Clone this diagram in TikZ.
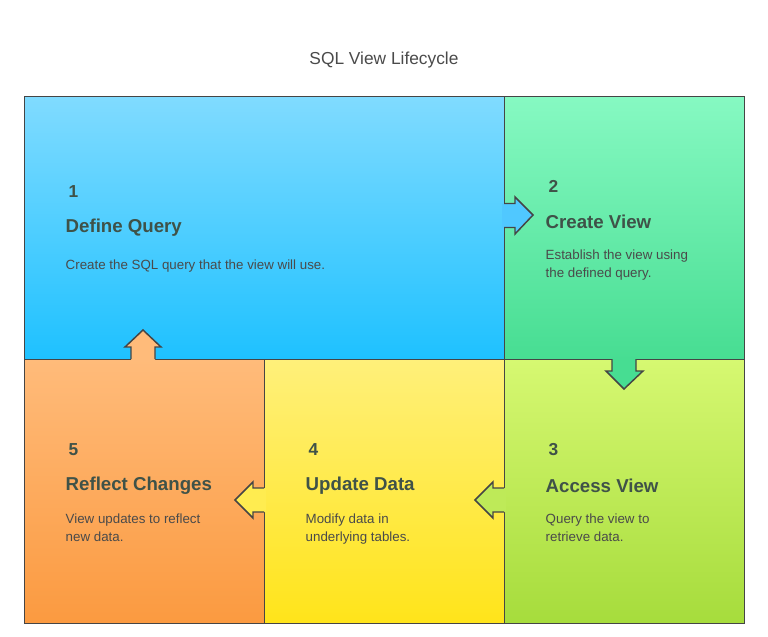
\documentclass[tikz,border=0pt]{standalone}
\usepackage{fontspec}
\setmainfont{Liberation Sans}
\usetikzlibrary{positioning}
\definecolor{edge}{HTML}{454545}
\definecolor{ink}{HTML}{4A4A4A}
\definecolor{headink}{HTML}{3F5248}
\definecolor{bluetop}{HTML}{80DBFF}
\definecolor{bluebot}{HTML}{1EC1FF}
\definecolor{bluemid}{HTML}{50C8FF}
\definecolor{greentop}{HTML}{86F9C2}
\definecolor{greenbot}{HTML}{47DD92}
\definecolor{limetop}{HTML}{D6F871}
\definecolor{limebot}{HTML}{A6DC3C}
\definecolor{limemid}{HTML}{BEEA58}
\definecolor{yellowtop}{HTML}{FFF07A}
\definecolor{yellowbot}{HTML}{FFE41A}
\definecolor{yellowmid}{HTML}{FFEC50}
\definecolor{orangetop}{HTML}{FFBB7A}
\definecolor{orangebot}{HTML}{FB9A40}

\begin{document}
\begin{tikzpicture}[
x=0.75pt, y=-0.75pt,
panel/.style={draw=edge, line width=1.1pt, rectangle, inner sep=0pt, anchor=north west},
num/.style={anchor=west, font=\bfseries\fontsize{13}{15}\selectfont, text=headink},
head/.style={anchor=west, font=\bfseries\fontsize{14}{16}\selectfont, text=headink},
body/.style={anchor=north west, align=left, font=\fontsize{10}{13.5}\selectfont, text=ink},
notch/.style={draw=edge, line width=1.1pt, line join=miter}
]
\useasboundingbox (0,0) rectangle (768,636);

\node[font=\fontsize{13}{15}\selectfont, text=ink] (title) at (384,60) {SQL View Lifecycle};

% panels
\node[panel, minimum width=360pt, minimum height=197.25pt, top color=bluetop, bottom color=bluebot] (define) at (24,96) {};
\node[panel, minimum width=180pt, minimum height=197.25pt, top color=greentop, bottom color=greenbot] (create) at (504,96) {};
\node[panel, minimum width=180pt, minimum height=198pt, top color=limetop, bottom color=limebot] (access) at (504,359) {};
\node[panel, minimum width=180pt, minimum height=198pt, top color=yellowtop, bottom color=yellowbot] (update) at (264,359) {};
\node[panel, minimum width=180pt, minimum height=198pt, top color=orangetop, bottom color=orangebot] (reflect) at (24,359) {};

% arrows between panels
\fill[bluemid] (502,203.5) -- (515,203.5) -- (515,197) -- (533,215) -- (515,234) -- (515,227.5) -- (502,227.5) -- cycle;
\draw[notch] (504,203.5) -- (515,203.5) -- (515,197) -- (533,215) -- (515,234) -- (515,227.5) -- (504,227.5);
\fill[greenbot] (612,357) -- (612,371) -- (606,371) -- (624,389) -- (643,371) -- (636,371) -- (636,357) -- cycle;
\draw[notch] (612,359) -- (612,371) -- (606,371) -- (624,389) -- (643,371) -- (636,371) -- (636,359);
\fill[limemid] (506,488) -- (493,488) -- (493,482) -- (475,500) -- (493,518) -- (493,512) -- (506,512) -- cycle;
\draw[notch] (504,488) -- (493,488) -- (493,482) -- (475,500) -- (493,518) -- (493,512) -- (504,512);
\fill[yellowmid] (266,488) -- (253,488) -- (253,482) -- (235,500) -- (253,518) -- (253,512) -- (266,512) -- cycle;
\draw[notch] (264,488) -- (253,488) -- (253,482) -- (235,500) -- (253,518) -- (253,512) -- (264,512);
\fill[orangetop] (131,361) -- (131,347) -- (125,347) -- (143,330) -- (161,347) -- (155,347) -- (155,361) -- cycle;
\draw[notch] (131,359) -- (131,347) -- (125,347) -- (143,330) -- (161,347) -- (155,347) -- (155,359);

% texts
\node[num] (n1) at (64,192) {1};
\node[head] (h1) at (61,228) {Define Query};
\node[body] (b1) at (61,255) {Create the SQL query that the view will use.};

\node[num] (n2) at (544,186) {2};
\node[head] (h2) at (541,222) {Create View};
\node[body] (b2) at (541,245) {Establish the view using\\the defined query.};

\node[num] (n3) at (544,450) {3};
\node[head] (h3) at (541,486) {Access View};
\node[body] (b3) at (541,509) {Query the view to\\retrieve data.};

\node[num] (n4) at (304,450) {4};
\node[head] (h4) at (301,486) {Update Data};
\node[body] (b4) at (301,509) {Modify data in\\underlying tables.};

\node[num] (n5) at (64,450) {5};
\node[head] (h5) at (61,486) {Reflect Changes};
\node[body] (b5) at (61,509) {View updates to reflect\\new data.};
\end{tikzpicture}
\end{document}
